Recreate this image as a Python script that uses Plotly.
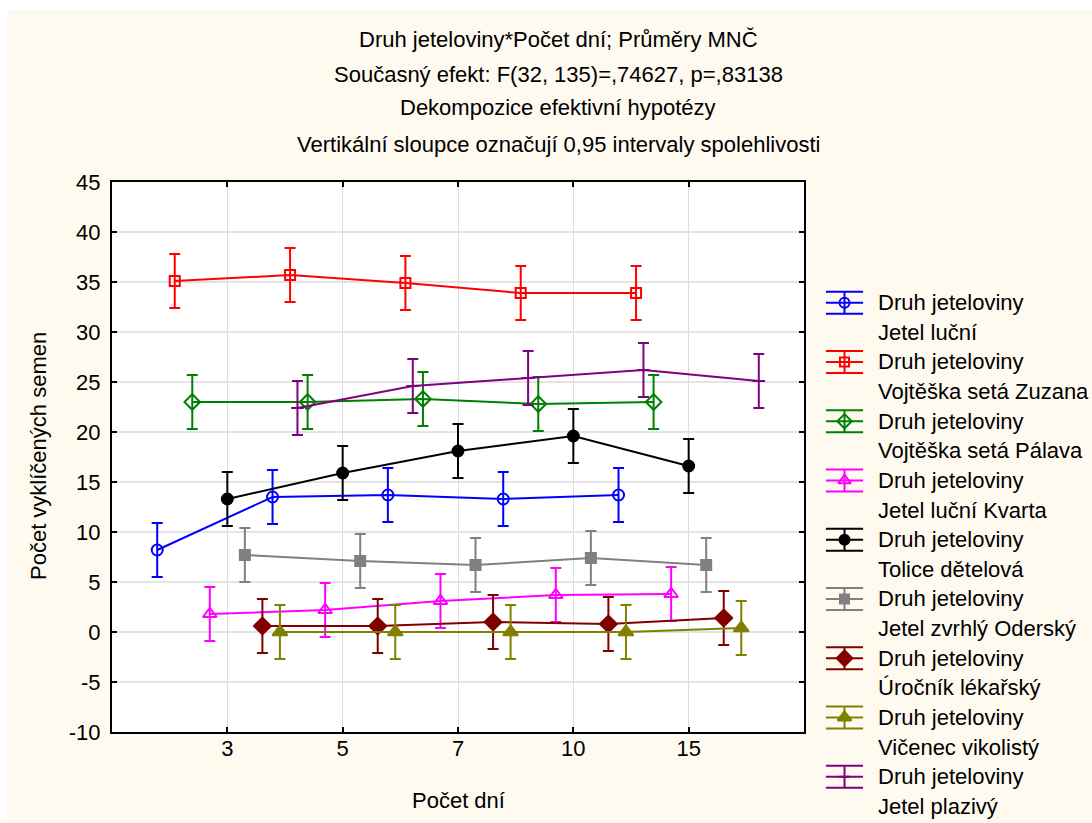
import plotly.graph_objects as go

# ---- data: means of germinated seeds per clover species and day count ----
days = ["3", "5", "7", "10", "15"]

species = [
    "Jetel luční",
    "Vojtěška setá Zuzana",
    "Vojtěška setá Pálava",
    "Jetel luční Kvarta",
    "Tolice dětelová",
    "Jetel zvrhlý Oderský",
    "Úročník lékařský",
    "Vičenec vikolistý",
    "Jetel plazivý",
]

jetel_lucni = [8.2, 13.5, 13.7, 13.3, 13.7]
vojteska_zuzana = [35.1, 35.7, 34.9, 33.9, 33.9]
vojteska_palava = [23.0, 23.0, 23.3, 22.8, 23.0]
jetel_lucni_kvarta = [1.8, 2.2, 3.1, 3.7, 3.8]
tolice_detelova = [13.3, 15.9, 18.1, 19.6, 16.6]
jetel_zvrhly_odersky = [7.7, 7.1, 6.7, 7.4, 6.7]
urocnik_lekarsky = [0.6, 0.6, 1.0, 0.8, 1.4]
vicenec_vikolisty = [0.0, 0.0, 0.0, 0.0, 0.4]
jetel_plazivy = [22.4, 24.6, 25.4, 26.2, 25.1]

# half-width of the 0.95 confidence interval (pooled)
ci_half = 2.7

y_ticks = list(range(-10, 50, 5))
y_tick_text = [str(v) for v in y_ticks]

means = [
    jetel_lucni, vojteska_zuzana, vojteska_palava, jetel_lucni_kvarta,
    tolice_detelova, jetel_zvrhly_odersky, urocnik_lekarsky,
    vicenec_vikolisty, jetel_plazivy,
]

# ---- styling ----
colors = ["#0000FF", "#FF0000", "#008000", "#FF00FF", "#000000",
          "#808080", "#800000", "#808000", "#800080"]
symbols = ["circle-open", "square-open", "diamond-open", "triangle-up-open",
           "circle", "square", "diamond", "triangle-up", "line-ew-open"]
sizes = [11, 10, 12, 12, 11, 10, 13, 13, 9]

FONT = "Liberation Sans, Arial, sans-serif"
FS = 22
W, H = 1092, 823
CREAM = "#FEFAF0"

# plot-area placement (pixels)
PL, PR, PT, PB = 112, 804, 182, 732
dodge = 0.152  # horizontal shift between species within a day group


def px_x(p):
    return p / W


def px_y(p):
    return 1 - p / H


fig = go.Figure()

n = len(species)
for k, (name, vals) in enumerate(zip(species, means)):
    xs = [i + 1 + (k - (n - 1) / 2) * dodge for i in range(len(days))]
    fig.add_trace(go.Scatter(
        x=xs, y=vals, mode="lines+markers",
        name=f"Druh jeteloviny {name}",
        line=dict(color=colors[k], width=2),
        marker=dict(symbol=symbols[k], size=sizes[k], color=colors[k],
                    line=dict(color=colors[k], width=2)),
        error_y=dict(type="constant", value=ci_half, color=colors[k],
                     thickness=2, width=5.5),
        showlegend=False,
        xaxis="x", yaxis="y",
    ))

# ---- legend drawn on its own small axes ----
leg_top = 302.7      # pixel centre of first entry
leg_step = 59.25     # pixel distance between entries
icon_half = 11 / leg_step

for k, name in enumerate(species):
    fig.add_trace(go.Scatter(
        x=[0, 1], y=[-k, -k], mode="lines",
        line=dict(color=colors[k], width=2),
        showlegend=False, hoverinfo="skip", xaxis="x2", yaxis="y2",
    ))
    fig.add_trace(go.Scatter(
        x=[0.5], y=[-k], mode="markers",
        marker=dict(symbol=symbols[k], size=sizes[k] - 1, color=colors[k],
                    line=dict(color=colors[k], width=2)),
        error_y=dict(type="constant", value=icon_half, color=colors[k],
                     thickness=2, width=18.8),
        showlegend=False, hoverinfo="skip", xaxis="x2", yaxis="y2",
    ))

annotations = []
for k, name in enumerate(species):
    for line_no, txt in enumerate(["Druh jeteloviny", name]):
        annotations.append(dict(
            text=txt, xref="paper", yref="y2", x=px_x(876), y=-k - 0.5 * line_no,
            xanchor="left", yanchor="middle", showarrow=False,
            font=dict(family=FONT, size=FS, color="#000000"),
        ))

# title block
title_lines = [
    ("Druh jeteloviny*Počet dní; Průměry MNČ", 39.5),
    ("Současný efekt: F(32, 135)=,74627, p=,83138", 74),
    ("Dekompozice efektivní hypotézy", 107.5),
    ("Vertikální sloupce označují 0,95 intervaly spolehlivosti", 144),
]
for txt, py in title_lines:
    annotations.append(dict(
        text=txt, xref="paper", yref="paper", x=px_x(558), y=px_y(py),
        xanchor="center", yanchor="middle", showarrow=False,
        font=dict(family=FONT, size=FS, color="#000000"),
    ))

# axis titles
annotations.append(dict(
    text="Počet dní", xref="paper", yref="paper", x=px_x(458), y=px_y(800),
    xanchor="center", yanchor="middle", showarrow=False,
    font=dict(family=FONT, size=FS, color="#000000"),
))
annotations.append(dict(
    text="Počet vyklíčených semen", xref="paper", yref="paper",
    x=px_x(38), y=px_y(456), textangle=-90,
    xanchor="center", yanchor="middle", showarrow=False,
    font=dict(family=FONT, size=FS, color="#000000"),
))

leg_y0 = leg_top + 8.5 * leg_step
leg_y1 = leg_top - 0.5 * leg_step

fig.update_layout(
    width=W, height=H,
    autosize=False,
    margin=dict(l=0, r=0, t=0, b=0, pad=0, autoexpand=False),
    paper_bgcolor=CREAM,
    plot_bgcolor=CREAM,
    font=dict(family=FONT, size=FS, color="#000000"),
    showlegend=False,
    annotations=annotations,
    shapes=[
        # white frame strip along the top and left edges
        dict(type="rect", xref="paper", yref="paper", x0=0, x1=1,
             y0=px_y(10), y1=1, fillcolor="#FFFFFF", line_width=0, layer="below"),
        dict(type="rect", xref="paper", yref="paper", x0=0, x1=px_x(7),
             y0=0, y1=1, fillcolor="#FFFFFF", line_width=0, layer="below"),
        # white plotting area under the grid
        dict(type="rect", xref="x domain", yref="y domain", x0=0, x1=1,
             y0=0, y1=1, fillcolor="#FFFFFF", line_width=0, layer="below"),
    ],
    xaxis=dict(
        domain=[px_x(PL), px_x(PR)], range=[0, 6], automargin=False,
        tickmode="array", tickvals=[1, 2, 3, 4, 5], ticktext=days,
        showgrid=True, gridcolor="#DCDCDC", gridwidth=1,
        zeroline=False, showline=True, linecolor="#000000", linewidth=2,
        mirror="allticks", ticks="inside", ticklen=5, tickwidth=2,
        tickcolor="#000000", ticklabelstandoff=-4,
        tickfont=dict(family=FONT, size=FS), anchor="y",
    ),
    yaxis=dict(
        domain=[px_y(PB), px_y(PT)], range=[-10, 45], automargin=False,
        tickmode="array", tickvals=y_ticks, ticktext=y_tick_text,
        showgrid=True, gridcolor="#E4E4E4", gridwidth=1.5,
        zeroline=False, showline=True, linecolor="#000000", linewidth=2,
        mirror="allticks", ticks="inside", ticklen=5, tickwidth=2,
        tickcolor="#000000", ticklabelstandoff=5,
        tickfont=dict(family=FONT, size=FS), anchor="x",
    ),
    xaxis2=dict(
        domain=[px_x(825.7), px_x(863.3)], range=[0, 1], automargin=False,
        visible=False, fixedrange=True, anchor="y2",
    ),
    yaxis2=dict(
        domain=[px_y(leg_y0), px_y(leg_y1)], range=[-8.5, 0.5], automargin=False,
        visible=False, fixedrange=True, anchor="x2",
    ),
)

fig.write_html("out.html")
